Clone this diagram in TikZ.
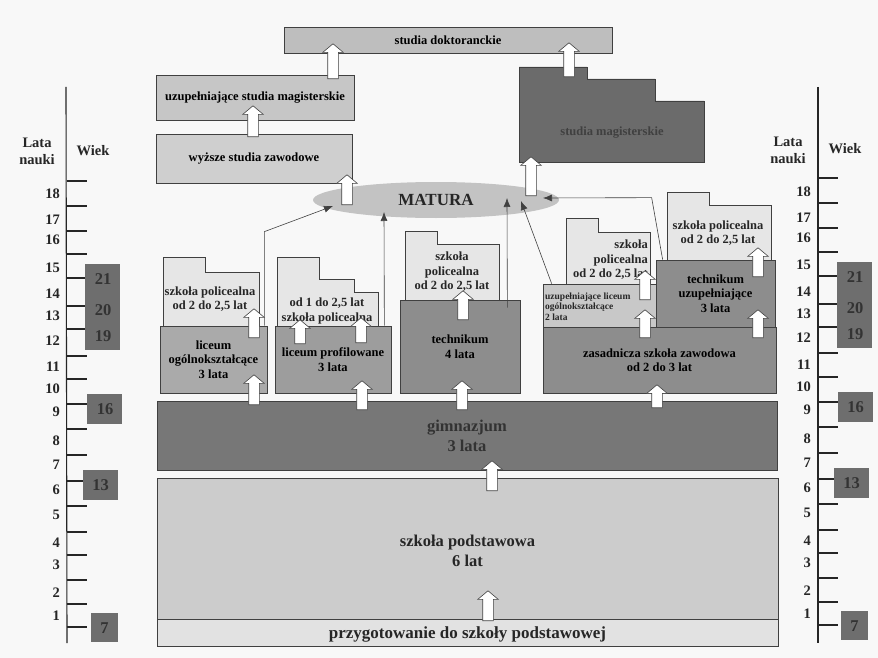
\documentclass[tikz,border=0pt]{standalone}
\usepackage{fontspec}
\setmainfont{Liberation Serif}
\usepackage{tikz,xcolor}
\usetikzlibrary{shapes.arrows}
\usetikzlibrary{shapes.geometric}
\usetikzlibrary{arrows.meta}

\definecolor{tlo}{HTML}{F8F8F8}
\definecolor{cdok}{HTML}{BEBEBE}
\definecolor{cuzm}{HTML}{C6C6C6}
\definecolor{cwsz}{HTML}{CFCFCF}
\definecolor{cmat}{HTML}{C3C3C3}
\definecolor{cmag}{HTML}{6B6B6B}
\definecolor{cpol}{HTML}{E6E6E6}
\definecolor{clo}{HTML}{AAAAAA}
\definecolor{clp}{HTML}{9D9D9D}
\definecolor{ctech}{HTML}{8D8D8D}
\definecolor{culo}{HTML}{C8C8C8}
\definecolor{cgim}{HTML}{777777}
\definecolor{csp}{HTML}{CCCCCC}
\definecolor{cprz}{HTML}{E2E2E2}
\definecolor{cwiek}{HTML}{6E6E6E}

\begin{document}
\begin{tikzpicture}[x=1pt,y=-1pt]
\tikzstyle{box}=[draw=black!75,line width=.7pt,inner sep=0pt,align=center]
\tikzstyle{pol}=[draw=black!75,line width=.7pt,fill=cpol]
\tikzstyle{txt}=[inner sep=0pt,align=center,text=black!85]
\tikzstyle{fa}=[font=\fontsize{12.5}{14.5}\selectfont\bfseries]
\tikzstyle{fb}=[font=\fontsize{16.5}{20}\selectfont\bfseries]
\tikzstyle{fc}=[font=\fontsize{14.5}{17}\selectfont\bfseries]
\tikzstyle{fs}=[font=\fontsize{9.5}{10.5}\selectfont\bfseries]
\tikzstyle{up}=[single arrow,draw=black!75,fill=white,line width=.6pt,rotate=90,minimum height=30pt,single arrow head extend=5pt,single arrow tip angle=100,inner xsep=0pt,inner ysep=5pt]
\tikzstyle{lin}=[draw=black!75,line width=.6pt,-{Latex[length=9pt,width=7pt]}]
\tikzstyle{age}=[fill=cwiek,inner sep=0pt]
\tikzstyle{tick}=[draw=black!85,line width=1.1pt]

\fill[tlo] (0,0) rectangle (878,658);
\useasboundingbox (0,0) rectangle (878,658);

% studia
\node[box,fa,fill=cdok,minimum width=328pt,minimum height=26pt](dok) at (448,40){studia doktoranckie};
\node[box,fa,fill=cuzm,minimum width=198pt,minimum height=45pt](uzm) at (255,97.5){uzupełniające studia magisterskie};
\node[box,fa,fill=cwsz,minimum width=196pt,minimum height=49pt](wsz) at (254,158.5){wyższe studia zawodowe};
\draw[draw=black!75,line width=.7pt,fill=cmag] (519,162) |- (587,67) |- (655,79) |- (704,101) -- (704,162) -- cycle;
\node[txt,fa,text=black!75](mag) at (612,133){studia magisterskie};
\node[ellipse,fill=cmat,minimum width=246pt,minimum height=36pt,inner sep=0pt,font=\fontsize{17}{20}\selectfont\bfseries,text=black!85](mat) at (436,200){MATURA};

% szkoly ponadgimnazjalne
\draw[pol] (163,326) |- (205,257) |- (259,272) -- (259,326) -- cycle;
\node[txt,fa](p1) at (210,299){szkoła policealna\\od 2 do 2,5 lat};
\node[box,fa,fill=clo,minimum width=107pt,minimum height=67pt](lo) at (213.5,359.5){liceum\\ogólnokształcące\\3 lata};
\draw[pol] (277,326) |- (319,257) |- (354,279) |- (378,292) -- (378,326) -- cycle;
\node[txt,fa](p2) at (327,311){od 1 do 2,5 lat\\szkoła policealna};
\node[box,fa,fill=clp,minimum width=116pt,minimum height=67pt](lp) at (333,359.5){liceum profilowane\\3 lata};
\draw[pol] (405,300) |- (437,231) |- (499,244) -- (499,300) -- cycle;
\node[txt,fa](p3) at (452,272){szkoła\\policealna\\od 2 do 2,5 lat};
\node[box,fa,fill=ctech,minimum width=120pt,minimum height=93pt](tech) at (460,346.5){technikum\\4 lata};
\node[box,fa,fill=ctech,minimum width=233pt,minimum height=66pt](zsz) at (659.5,360){zasadnicza szkoła zawodowa\\od 2 do 3 lat};
\node[box,fill=culo,minimum width=113pt,minimum height=43pt](ulo) at (599.5,305.5){};
\node[txt,fs,align=left,anchor=west](ulot) at (545,306.5){uzupełniające liceum\\ogólnokształcące\\2 lata};
\draw[pol] (566,284) |- (598,218) |- (650,232) -- (650,284) -- cycle;
\node[txt,fa,align=right,anchor=east](p4) at (648,260){szkoła\\policealna\\od 2 do 2,5 lat};
\node[box,fa,fill=ctech,minimum width=119pt,minimum height=67pt](tu) at (715.5,293.5){technikum\\uzupełniające\\3 lata};
\draw[pol] (667,260) |- (709,192) |- (771,205) -- (771,260) -- cycle;
\node[txt,fa](p5) at (718,233){szkoła policealna\\od 2 do 2,5 lat};

% gimnazjum, podstawowa
\node[box,fb,fill=cgim,minimum width=620pt,minimum height=69pt,text=black!80](gim) at (467,435.5){gimnazjum\\3 lata};
\node[box,fb,fill=csp,minimum width=621pt,minimum height=141pt](sp) at (467.5,548.5){};
\node[txt,fb](spt) at (467.5,551){szkoła podstawowa\\6 lat};
\node[box,fill=cprz,minimum width=621pt,minimum height=27pt](prz) at (467.5,632.5){};
\node[txt,font=\fontsize{17}{20}\selectfont\bfseries](przt) at (467.5,634){przygotowanie do szkoły podstawowej};

% strzalki do matury
\coordinate (m1) at (333,206);
\coordinate (m2) at (384,212);
\coordinate (m3) at (507,198);
\coordinate (m4) at (521,201);
\coordinate (m5) at (543,198);
\draw[lin] ([xshift=-3pt]lo.north east) -- ++(0,-94) -- (m1);
\draw[lin] ([xshift=-7pt]lp.north east) -- (m2);
\draw[lin] ([xshift=-13pt,yshift=-8pt]tech.north east) -- (m3);
\draw[lin] ([xshift=9pt]ulo.north west) -- (m4);
\draw[lin] ([xshift=7pt]tu.north west) -- ++(-11,-62) -- (m5);

% strzalki blokowe
\node[up](a1) at (347,192){};
\node[up,minimum height=31pt](a2) at (253,123.5){};
\node[up,minimum height=35pt](a3) at (333,63.5){};
\node[up,minimum height=34pt](a4) at (569,62){};
\node[up,minimum height=39pt](a5) at (531,178.5){};
\node[up,minimum height=29pt](a6) at (254,325.5){};
\node[up](a7) at (254,392){};
\node[up,minimum height=24pt](a8) at (300,334){};
\node[up,minimum height=25pt](a9) at (361,332.5){};
\node[up,minimum height=29pt](a10) at (362,397.5){};
\node[up,minimum height=29pt](a11) at (463,307.5){};
\node[up,minimum height=29pt](a12) at (462,397.5){};
\node[up,minimum height=28pt](a13) at (645,326){};
\node[up,minimum height=29pt](a14) at (645,287.5){};
\node[up,minimum height=28pt](a15) at (758,326){};
\node[up,minimum height=29pt](a16) at (758,264.5){};
\node[up,minimum height=23pt](a17) at (657,398.5){};
\node[up](a18) at (492,478){};
\node[up](a19) at (488,608){};

% skala lewa
\node[txt,fc,text=black!85](lata1) at (37,151){Lata\\nauki};
\node[txt,fc,text=black!85](wiek1) at (93,151){Wiek};
\draw[tick] (66,87) -- (67,643);
\foreach \y in {181,206,231,254,278,306,329,356,379,404,429,455,481,506,532,555,580,604,627}
  \draw[tick] (66.5,\y) -- ++(20,0);
\foreach \n/\y in {18/194,17/220,16/240,15/268,14/294,13/316,12/341,11/367,10/389,9/412,8/441,7/465,6/490,5/515,4/543,3/565,2/593,1/616}
  \node[txt,fc,anchor=east](l\n) at (60,\y){\n};
\node[age,minimum width=35pt,minimum height=86pt](w1) at (102.5,307){};
\node[age,minimum width=35pt,minimum height=30pt](w2) at (104.5,409){};
\node[age,minimum width=35pt,minimum height=30pt](w3) at (100.5,485){};
\node[age,minimum width=27pt,minimum height=29pt](w4) at (104.5,627.5){};
\node[txt,fb,text=black!80](w21) at (103,279){21};
\node[txt,fb,text=black!80](w20) at (103,310){20};
\node[txt,fb,text=black!80](w19) at (103,336){19};
\node[txt,fb,text=black!80](w16) at (105,409){16};
\node[txt,fb,text=black!80](w13) at (100.5,485){13};
\node[txt,fb,text=black!80](w7) at (104.5,628){7};

% skala prawa
\node[txt,fc,text=black!85](lata2) at (788,150){Lata\\nauki};
\node[txt,fc,text=black!85](wiek2) at (845,149){Wiek};
\draw[tick] (818,87) -- (818,643);
\foreach \y in {178,203,228,252,276,304,327,353,377,402,427,453,479,504,530,553,578,602,625}
  \draw[tick] (818,\y) -- ++(20,0);
\foreach \n/\y in {18/192,17/218,16/238,15/265,14/292,13/314,12/338,11/365,10/387,9/410,8/439,7/463,6/488,5/513,4/541,3/563,2/591,1/614}
  \node[txt,fc,anchor=east](r\n) at (811,\y){\n};
\node[age,minimum width=35pt,minimum height=86pt](v1) at (854.5,305){};
\node[age,minimum width=35pt,minimum height=30pt](v2) at (855.5,407){};
\node[age,minimum width=35pt,minimum height=30pt](v3) at (851.5,483){};
\node[age,minimum width=27pt,minimum height=29pt](v4) at (854.5,625.5){};
\node[txt,fb,text=black!80](v21) at (855,277){21};
\node[txt,fb,text=black!80](v20) at (855,308){20};
\node[txt,fb,text=black!80](v19) at (855,334){19};
\node[txt,fb,text=black!80](v16) at (855.5,407){16};
\node[txt,fb,text=black!80](v13) at (851.5,483){13};
\node[txt,fb,text=black!80](v7) at (854.5,626){7};
\end{tikzpicture}
\end{document}
